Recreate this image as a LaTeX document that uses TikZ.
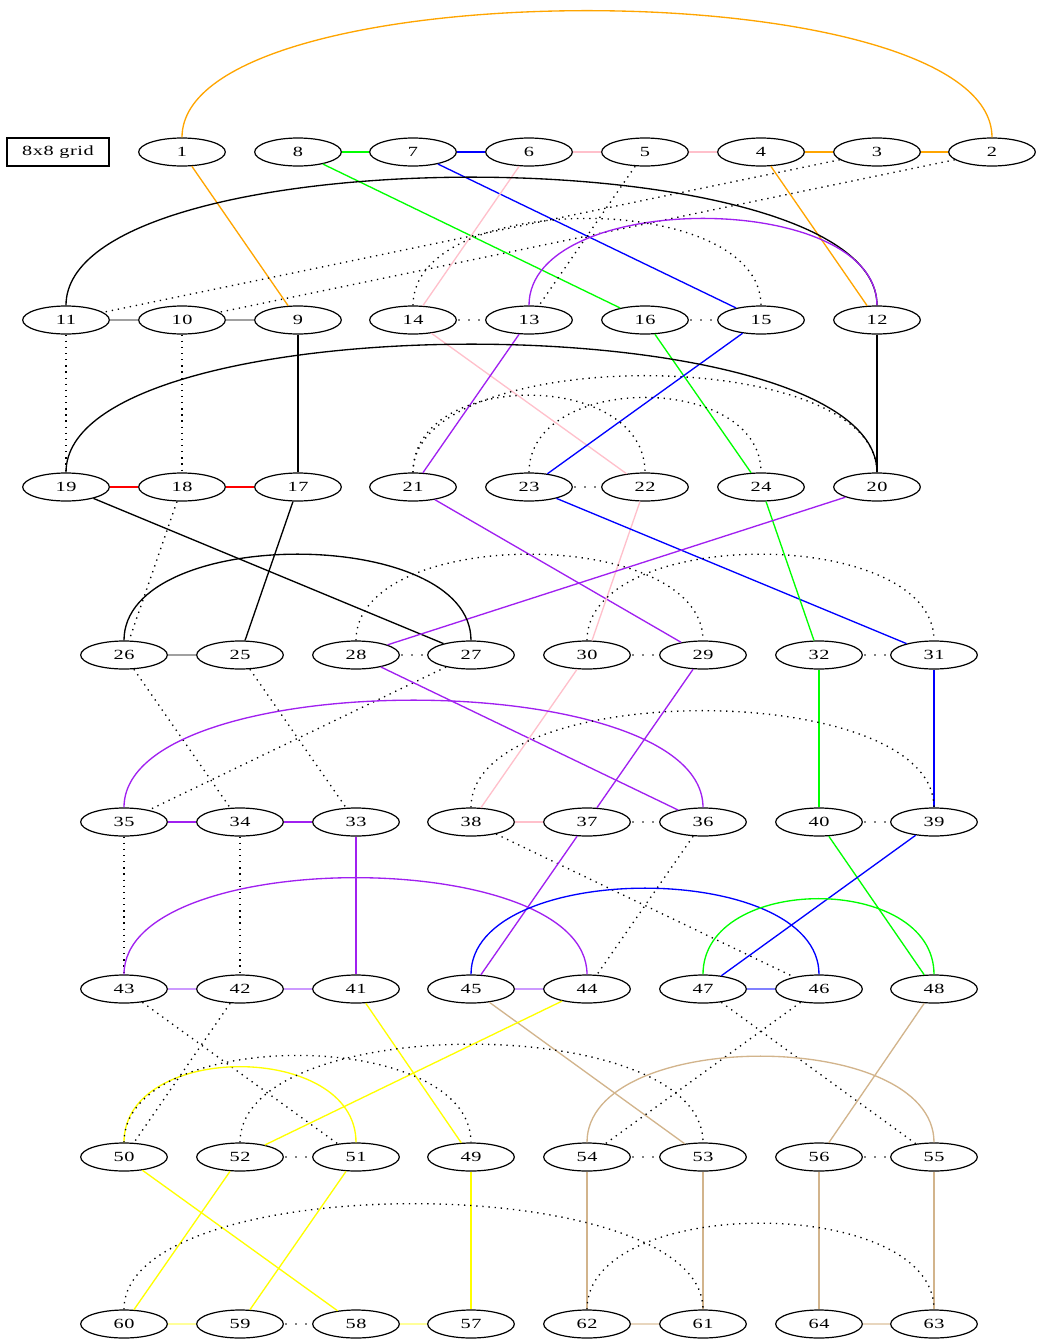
\documentclass[tikz,border=0pt]{standalone}
\usepackage{fontspec}
\setmainfont[FakeStretch=1.45, LetterSpace=4]{Liberation Serif}
\usetikzlibrary{shapes.geometric}

\definecolor{gvorange}{HTML}{FFA500}
\definecolor{gvgreen}{HTML}{00FF00}
\definecolor{gvblue}{HTML}{0000FF}
\definecolor{gvpink}{HTML}{FFC0CB}
\definecolor{gvpurple}{HTML}{A020F0}
\definecolor{gvyellow}{HTML}{FFFF00}
\definecolor{gvtan}{HTML}{D2B48C}
\definecolor{gvred}{HTML}{FF0000}
\definecolor{gvgray}{HTML}{A0A0A0}
\definecolor{gvlav}{HTML}{CC99FF}
\definecolor{gvlblue}{HTML}{8080FF}
\definecolor{gvlyellow}{HTML}{FFFF99}
\definecolor{gvltan}{HTML}{E8D6BE}

\begin{document}
\begin{tikzpicture}[
  x=0.75pt, y=-0.75pt,
  cell/.style={ellipse, draw=black, line width=0.9pt, minimum width=65pt, minimum height=21pt, inner sep=0pt, font=\fontsize{10.5}{12}\selectfont},
  tag/.style={rectangle, draw=black, line width=0.9pt, minimum width=76.5pt, minimum height=21pt, inner sep=0pt, font=\fontsize{10.5}{12}\selectfont},
  orangeedge/.style={draw=gvorange, line width=1pt},
  greenedge/.style={draw=gvgreen, line width=1pt},
  blueedge/.style={draw=gvblue, line width=1pt},
  pinkedge/.style={draw=gvpink, line width=1pt},
  purpleedge/.style={draw=gvpurple, line width=1pt},
  blackedge/.style={draw=black, line width=1pt},
  rededge/.style={draw=gvred, line width=1pt},
  grayedge/.style={draw=gvgray, line width=1.1pt},
  yellowedge/.style={draw=gvyellow, line width=1pt},
  tanedge/.style={draw=gvtan, line width=1pt},
  lavedge/.style={draw=gvlav, line width=1.1pt},
  lblueedge/.style={draw=gvlblue, line width=1.1pt},
  lyellowedge/.style={draw=gvlyellow, line width=1.1pt},
  ltanedge/.style={draw=gvltan, line width=1.1pt},
  dotedge/.style={draw=black, line width=1pt, dash pattern=on 1pt off 3.6pt},
  gapedge/.style={draw=gray, line width=1pt, dash pattern=on 1.5pt off 6pt, dash phase=-1pt}
]
\useasboundingbox (0,0) rectangle (1036,1343);

% row 1
\node[tag] (title) at (58, 152) {8x8 grid};
\node[cell] (v1) at (182, 152) {1};
\node[cell] (v8) at (298, 152) {8};
\node[cell] (v7) at (413, 152) {7};
\node[cell] (v6) at (529, 152) {6};
\node[cell] (v5) at (645, 152) {5};
\node[cell] (v4) at (761, 152) {4};
\node[cell] (v3) at (877, 152) {3};
\node[cell] (v2) at (992, 152) {2};
% row 2
\node[cell] (v11) at (66, 320) {11};
\node[cell] (v10) at (182, 320) {10};
\node[cell] (v9) at (298, 320) {9};
\node[cell] (v14) at (413, 320) {14};
\node[cell] (v13) at (529, 320) {13};
\node[cell] (v16) at (645, 320) {16};
\node[cell] (v15) at (761, 320) {15};
\node[cell] (v12) at (877, 320) {12};
% row 3
\node[cell] (v19) at (66, 487) {19};
\node[cell] (v18) at (182, 487) {18};
\node[cell] (v17) at (298, 487) {17};
\node[cell] (v21) at (413, 487) {21};
\node[cell] (v23) at (529, 487) {23};
\node[cell] (v22) at (645, 487) {22};
\node[cell] (v24) at (761, 487) {24};
\node[cell] (v20) at (877, 487) {20};
% row 4
\node[cell] (v26) at (124, 655) {26};
\node[cell] (v25) at (240, 655) {25};
\node[cell] (v28) at (356, 655) {28};
\node[cell] (v27) at (471, 655) {27};
\node[cell] (v30) at (587, 655) {30};
\node[cell] (v29) at (703, 655) {29};
\node[cell] (v32) at (819, 655) {32};
\node[cell] (v31) at (934, 655) {31};
% row 5
\node[cell] (v35) at (124, 822) {35};
\node[cell] (v34) at (240, 822) {34};
\node[cell] (v33) at (356, 822) {33};
\node[cell] (v38) at (471, 822) {38};
\node[cell] (v37) at (587, 822) {37};
\node[cell] (v36) at (703, 822) {36};
\node[cell] (v40) at (819, 822) {40};
\node[cell] (v39) at (934, 822) {39};
% row 6
\node[cell] (v43) at (124, 989) {43};
\node[cell] (v42) at (240, 989) {42};
\node[cell] (v41) at (356, 989) {41};
\node[cell] (v45) at (471, 989) {45};
\node[cell] (v44) at (587, 989) {44};
\node[cell] (v47) at (703, 989) {47};
\node[cell] (v46) at (819, 989) {46};
\node[cell] (v48) at (934, 989) {48};
% row 7
\node[cell] (v50) at (124, 1157) {50};
\node[cell] (v52) at (240, 1157) {52};
\node[cell] (v51) at (356, 1157) {51};
\node[cell] (v49) at (471, 1157) {49};
\node[cell] (v54) at (587, 1157) {54};
\node[cell] (v53) at (703, 1157) {53};
\node[cell] (v56) at (819, 1157) {56};
\node[cell] (v55) at (934, 1157) {55};
% row 8
\node[cell] (v60) at (124, 1324) {60};
\node[cell] (v59) at (240, 1324) {59};
\node[cell] (v58) at (356, 1324) {58};
\node[cell] (v57) at (471, 1324) {57};
\node[cell] (v62) at (587, 1324) {62};
\node[cell] (v61) at (703, 1324) {61};
\node[cell] (v64) at (819, 1324) {64};
\node[cell] (v63) at (934, 1324) {63};

% row 1 edges
\draw[greenedge] (v8) -- (v7);
\draw[blueedge] (v7) -- (v6);
\draw[pinkedge] (v6) -- (v5);
\draw[pinkedge] (v5) -- (v4);
\draw[orangeedge] (v4) -- (v3);
\draw[orangeedge] (v3) -- (v2);
\draw[orangeedge] (v1.north) .. controls +(0,-169) and +(0,-169) .. (v2.north);
\draw[orangeedge] (v1) -- (v9);
\draw[orangeedge] (v4) -- (v12);
\draw[greenedge] (v8) -- (v16);
\draw[blueedge] (v7) -- (v15);
\draw[pinkedge] (v6) -- (v14);
\draw[dotedge] (v5) -- (v13);
\draw[dotedge] (v3) -- (v11);
\draw[dotedge] (v2) -- (v10);

% row 2 edges
\draw[grayedge] (v11) -- (v10);
\draw[grayedge] (v10) -- (v9);
\draw[gapedge] (v14) -- (v13);
\draw[gapedge] (v16) -- (v15);
\draw[blackedge] (v11.north) .. controls +(0,-171) and +(0,-171) .. (v12.north);
\draw[purpleedge] (v13.north) .. controls +(0,-116) and +(0,-116) .. (v12.north);
\draw[dotedge] (v14.north) .. controls +(0,-116) and +(0,-116) .. (v15.north);
\draw[dotedge] (v11) -- (v19);
\draw[dotedge] (v10) -- (v18);
\draw[blackedge] (v9) -- (v17);
\draw[pinkedge] (v14) -- (v22);
\draw[purpleedge] (v13) -- (v21);
\draw[greenedge] (v16) -- (v24);
\draw[blueedge] (v15) -- (v23);
\draw[blackedge] (v12) -- (v20);

% row 3 edges
\draw[rededge] (v19) -- (v18);
\draw[rededge] (v18) -- (v17);
\draw[gapedge] (v23) -- (v22);
\draw[blackedge] (v19.north) .. controls +(0,-171) and +(0,-171) .. (v20.north);
\draw[dotedge] (v21.north) .. controls +(0,-129) and +(0,-129) .. (v20.north);
\draw[dotedge] (v21.north) .. controls +(0,-103) and +(0,-103) .. (v22.north);
\draw[dotedge] (v23.north) .. controls +(0,-100) and +(0,-100) .. (v24.north);
\draw[blackedge] (v19) -- (v27);
\draw[dotedge] (v18) -- (v26);
\draw[blackedge] (v17) -- (v25);
\draw[purpleedge] (v21) -- (v29);
\draw[pinkedge] (v22) -- (v30);
\draw[blueedge] (v23) -- (v31);
\draw[greenedge] (v24) -- (v32);
\draw[purpleedge] (v20) -- (v28);

% row 4 edges
\draw[grayedge] (v26) -- (v25);
\draw[gapedge] (v28) -- (v27);
\draw[gapedge] (v30) -- (v29);
\draw[gapedge] (v32) -- (v31);
\draw[blackedge] (v26.north) .. controls +(0,-115) and +(0,-115) .. (v27.north);
\draw[dotedge] (v28.north) .. controls +(0,-115) and +(0,-115) .. (v29.north);
\draw[dotedge] (v30.north) .. controls +(0,-115) and +(0,-115) .. (v31.north);
\draw[dotedge] (v26) -- (v34);
\draw[dotedge] (v25) -- (v33);
\draw[dotedge] (v27) -- (v35);
\draw[purpleedge] (v28) -- (v36);
\draw[pinkedge] (v30) -- (v38);
\draw[purpleedge] (v29) -- (v37);
\draw[greenedge] (v32) -- (v40);
\draw[blueedge] (v31) -- (v39);

% row 5 edges
\draw[purpleedge] (v35) -- (v34);
\draw[purpleedge] (v34) -- (v33);
\draw[pinkedge] (v38) -- (v37);
\draw[gapedge] (v37) -- (v36);
\draw[gapedge] (v40) -- (v39);
\draw[purpleedge] (v35.north) .. controls +(0,-143) and +(0,-143) .. (v36.north);
\draw[dotedge] (v38.north) .. controls +(0,-129) and +(0,-129) .. (v39.north);
\draw[dotedge] (v35) -- (v43);
\draw[dotedge] (v34) -- (v42);
\draw[purpleedge] (v33) -- (v41);
\draw[dotedge] (v38) -- (v46);
\draw[purpleedge] (v37) -- (v45);
\draw[dotedge] (v36) -- (v44);
\draw[greenedge] (v40) -- (v48);
\draw[blueedge] (v39) -- (v47);

% row 6 edges
\draw[lavedge] (v43) -- (v42);
\draw[lavedge] (v42) -- (v41);
\draw[lavedge] (v45) -- (v44);
\draw[lblueedge] (v47) -- (v46);
\draw[purpleedge] (v43.north) .. controls +(0,-129) and +(0,-129) .. (v44.north);
\draw[blueedge] (v45.north) .. controls +(0,-115) and +(0,-115) .. (v46.north);
\draw[greenedge] (v47.north) .. controls +(0,-101) and +(0,-101) .. (v48.north);
\draw[dotedge] (v43) -- (v51);
\draw[dotedge] (v42) -- (v50);
\draw[yellowedge] (v41) -- (v49);
\draw[tanedge] (v45) -- (v53);
\draw[yellowedge] (v44) -- (v52);
\draw[dotedge] (v47) -- (v55);
\draw[dotedge] (v46) -- (v54);
\draw[tanedge] (v48) -- (v56);

% row 7 edges
\draw[gapedge] (v52) -- (v51);
\draw[gapedge] (v54) -- (v53);
\draw[gapedge] (v56) -- (v55);
\draw[yellowedge] (v50.north) .. controls +(0,-101) and +(0,-101) .. (v51.north);
\draw[dotedge] (v50.north) .. controls +(0,-116) and +(0,-116) .. (v49.north);
\draw[dotedge] (v52.north) .. controls +(0,-131) and +(0,-131) .. (v53.north);
\draw[tanedge] (v54.north) .. controls +(0,-115) and +(0,-115) .. (v55.north);
\draw[yellowedge] (v50) -- (v58);
\draw[yellowedge] (v52) -- (v60);
\draw[yellowedge] (v51) -- (v59);
\draw[yellowedge] (v49) -- (v57);
\draw[tanedge] (v54) -- (v62);
\draw[tanedge] (v53) -- (v61);
\draw[tanedge] (v56) -- (v64);
\draw[tanedge] (v55) -- (v63);

% row 8 edges
\draw[lyellowedge] (v60) -- (v59);
\draw[gapedge] (v59) -- (v58);
\draw[lyellowedge] (v58) -- (v57);
\draw[ltanedge] (v62) -- (v61);
\draw[ltanedge] (v64) -- (v63);
\draw[dotedge] (v60.north) .. controls +(0,-141) and +(0,-141) .. (v61.north);
\draw[dotedge] (v62.north) .. controls +(0,-115) and +(0,-115) .. (v63.north);

\end{tikzpicture}
\end{document}
